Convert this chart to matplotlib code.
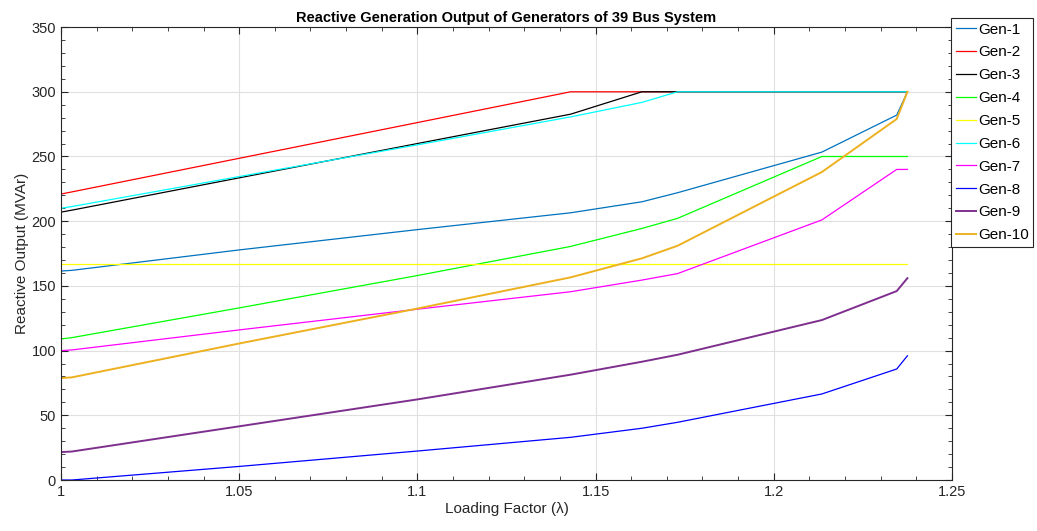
import matplotlib
matplotlib.use('Agg')
import matplotlib.pyplot as plt
from matplotlib.ticker import MultipleLocator, FormatStrFormatter

plt.rcParams['font.family'] = ['Liberation Sans', 'DejaVu Sans']

# loading factor steps
lam = [1.0, 1.003, 1.05, 1.10, 1.143, 1.163, 1.173, 1.2135, 1.2345, 1.2375]

gen1 = [161.5, 162.0, 177.8, 193.5, 206.5, 215.0, 222.0, 253.4, 282.0, 300.0]
gen2 = [221.0, 222.6, 248.6, 276.2, 300.0, 300.0, 300.0, 300.0, 300.0, 300.0]
gen3 = [207.0, 208.5, 233.5, 260.0, 282.7, 300.0, 300.0, 300.0, 300.0, 300.0]
gen4 = [109.0, 110.0, 133.0, 158.0, 180.5, 194.4, 202.2, 250.0, 250.0, 250.0]
gen5 = [167.0, 167.0, 167.0, 167.0, 167.0, 167.0, 167.0, 167.0, 167.0, 167.0]
gen6 = [210.0, 211.3, 234.5, 259.0, 280.6, 291.8, 300.0, 300.0, 300.0, 300.0]
gen7 = [100.0, 100.5, 116.0, 132.0, 145.5, 154.5, 159.5, 201.0, 240.0, 240.0]
gen8 = [0.0, 0.0, 10.5, 22.4, 33.0, 40.0, 44.6, 66.5, 85.8, 96.0]
gen9 = [21.6, 22.0, 41.5, 62.3, 81.4, 91.4, 96.8, 123.6, 146.0, 156.0]
gen10 = [78.8, 79.3, 105.5, 132.5, 156.6, 171.3, 181.0, 238.0, 279.0, 300.0]

names = ['Gen-1', 'Gen-2', 'Gen-3', 'Gen-4', 'Gen-5',
         'Gen-6', 'Gen-7', 'Gen-8', 'Gen-9', 'Gen-10']
series = [gen1, gen2, gen3, gen4, gen5, gen6, gen7, gen8, gen9, gen10]
colors = [(0, 0.447, 0.741), 'red', 'black', (0, 1, 0), (1, 1, 0),
          (0, 1, 1), (1, 0, 1), (0, 0, 1), (0.494, 0.184, 0.556),
          (0.929, 0.694, 0.125)]
widths = [0.9, 0.9, 0.9, 0.9, 0.9, 0.9, 0.9, 0.9, 1.4, 1.4]

fig = plt.figure(figsize=(10.37, 5.31), dpi=100)
ax = fig.add_axes([0.0588, 0.096, 0.8592, 0.853])

for y, n, c, w in zip(series, names, colors, widths):
    ax.plot(lam, y, color=c, lw=w, label=n)

ax.set_xlim(1, 1.25)
ax.set_ylim(0, 350)
ax.xaxis.set_major_locator(MultipleLocator(0.05))
ax.xaxis.set_minor_locator(MultipleLocator(0.01))
ax.yaxis.set_major_locator(MultipleLocator(50))
ax.yaxis.set_minor_locator(MultipleLocator(10))
ax.xaxis.set_major_formatter(FormatStrFormatter('%g'))
ax.tick_params(which='both', direction='in', top=True, right=True,
               colors='0.15', labelsize=10.5, labelcolor='0.15')
ax.tick_params(which='major', length=5)
ax.tick_params(which='minor', length=3)
ax.grid(True, which='major', color='0.88', lw=0.8)
for s in ax.spines.values():
    s.set_color('0.15')
    s.set_linewidth(0.8)

ax.set_title('Reactive Generation Output of Generators of 39 Bus System',
             fontsize=10.5, fontweight='bold', pad=4)
ax.set_xlabel('Loading Factor (λ)', fontsize=11, color='0.15', labelpad=2)
ax.set_ylabel('Reactive Output (MVAr)', fontsize=11, color='0.15', labelpad=2)

leg = ax.legend(loc='upper left', bbox_to_anchor=(0.999, 1.02), borderaxespad=0,
                fontsize=11, handlelength=1.3, handletextpad=0.15,
                labelspacing=0.58, fancybox=False, framealpha=1, borderpad=0.3)
leg.get_frame().set_edgecolor('0.15')
leg.get_frame().set_linewidth(0.8)

fig.savefig('out.png', dpi=100)
